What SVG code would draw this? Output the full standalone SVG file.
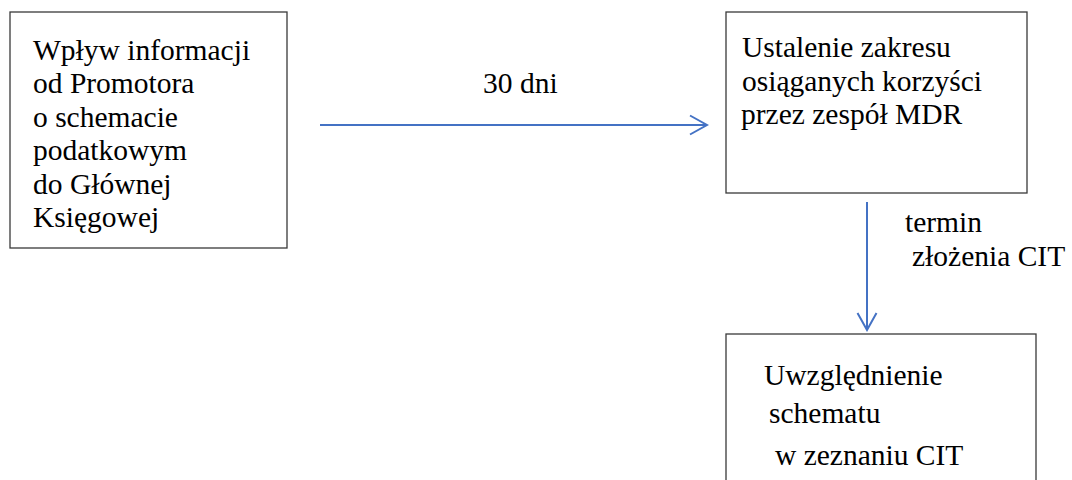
<svg xmlns="http://www.w3.org/2000/svg" width="1072" height="480" viewBox="0 0 1072 480">
  <style>
    .box { fill: #ffffff; stroke: #3a3a3a; stroke-width: 1.3; }
    .t { font-family: 'Liberation Serif', Tinos, 'Times New Roman', Times, 'DejaVu Serif', serif; font-size: 29.5px; fill: #000000; }
    .conn { fill: none; stroke: #4472C4; stroke-width: 2; }
  </style>
  <defs>
    <marker id="arrow" markerUnits="userSpaceOnUse" viewBox="0 0 20 22" markerWidth="20" markerHeight="22" refX="18" refY="11" orient="auto">
      <path d="M1,1.5 L18,11 L1,20.5" fill="none" stroke="#4472C4" stroke-width="2"/>
    </marker>
  </defs>
  <rect x="0" y="0" width="1072" height="480" fill="#ffffff"/>

  <g id="node-wplyw">
    <rect class="box" x="10" y="12" width="277" height="236"/>
    <text class="t" font-family="Liberation Serif, serif" x="33" y="59.5">Wpływ informacji</text>
    <text class="t" x="33" y="93">od Promotora</text>
    <text class="t" x="33" y="126.5">o schemacie</text>
    <text class="t" x="33" y="160">podatkowym</text>
    <text class="t" x="33" y="193.5">do Głównej</text>
    <text class="t" x="33" y="227">Księgowej</text>
  </g>

  <g id="node-ustalenie">
    <rect class="box" x="726" y="12" width="301" height="181"/>
    <text class="t" x="742" y="57">Ustalenie zakresu</text>
    <text class="t" x="742" y="90.5">osiąganych korzyści</text>
    <text class="t" x="741" y="124">przez zespół MDR</text>
  </g>

  <g id="node-uwzglednienie">
    <rect class="box" x="726" y="334" width="310" height="160"/>
    <text class="t" x="764" y="385">Uwzględnienie</text>
    <text class="t" x="769" y="423">schematu</text>
    <text class="t" x="775" y="465">w zeznaniu CIT</text>
  </g>

  <g id="connectors">
    <line class="conn" x1="320" y1="125" x2="707" y2="125" marker-end="url(#arrow)"/>
    <text class="t" x="483" y="92.5">30 dni</text>
    <line class="conn" x1="867" y1="202" x2="867" y2="330" marker-end="url(#arrow)"/>
    <text class="t" x="905" y="231.5">termin</text>
    <text class="t" x="912" y="266">złożenia CIT</text>
  </g>
</svg>
